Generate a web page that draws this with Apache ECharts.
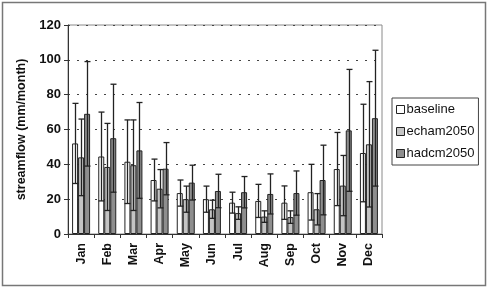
<!DOCTYPE html>
<html>
<head>
<meta charset="utf-8">
<script src="https://cdn.jsdelivr.net/npm/echarts@6/dist/echarts.min.js"></script>
<style>
    html, body { margin: 0; padding: 0; background: #fff; }
    #chart { width: 488px; height: 288px; }
</style>
</head>
<body>
<div id="chart"></div>
<script>
var months = ['Jan', 'Feb', 'Mar', 'Apr', 'May', 'Jun', 'Jul', 'Aug', 'Sep', 'Oct', 'Nov', 'Dec'];
var seriesNames = ['baseline', 'echam2050', 'hadcm2050'];
var baseline = [52, 44.5, 41.5, 31, 23.5, 20, 18, 19, 18, 24, 37.3, 46.5];
var baselineErr = [23, 25.5, 24, 12, 7.5, 7.5, 6, 9.5, 9.6, 16, 21, 28];
var echam = [44, 38.5, 39.5, 26, 20, 14.2, 12, 10, 9.7, 14.2, 27.8, 51.5];
var echamErr = [22, 25, 26, 11, 7.5, 5.2, 3.6, 3.3, 3.6, 9, 17.3, 36];
var hadcm = [69, 55, 48, 37.5, 29.5, 24.7, 24, 23, 23.5, 31, 59.5, 66.5];
var hadcmErr = [30, 31, 27.5, 15, 10, 9.6, 9, 11.5, 12.7, 20, 35, 39];
var yTicks = [0, 20, 40, 60, 80, 100, 120];

(function () {
    var myechart = echarts.init(document.getElementById('chart'), null, { renderer: 'canvas' });
    var fills = ['#ffffff', '#c4c4c4', '#8e8e8e'];
    var values = [baseline, echam, hadcm];
    var errs = [baselineErr, echamErr, hadcmErr];
    var barW = 6;
    var font = 'Arial, "Liberation Sans", sans-serif';

    // error bars drawn on top of the bars, offset like the grouped bars
    function errorSeries(idx) {
        var rows = [];
        for (var i = 0; i < months.length; i++) {
            rows.push([i, values[idx][i] - errs[idx][i], values[idx][i] + errs[idx][i]]);
        }
        return {
            type: 'custom',
            name: seriesNames[idx] + ' err',
            data: rows,
            z: 10,
            silent: true,
            renderItem: function (params, api) {
                var off = (idx - 1) * barW;
                var lo = api.coord([api.value(0), api.value(1)]);
                var hi = api.coord([api.value(0), api.value(2)]);
                var x = Math.round(lo[0] + off) + 0.5;
                var cap = 3;
                var st = { stroke: '#222', lineWidth: 1.3 };
                return {
                    type: 'group',
                    children: [
                        { type: 'line', shape: { x1: x, y1: lo[1], x2: x, y2: hi[1] }, style: st },
                        { type: 'line', shape: { x1: x - cap, y1: lo[1], x2: x + cap, y2: lo[1] }, style: st },
                        { type: 'line', shape: { x1: x - cap, y1: hi[1], x2: x + cap, y2: hi[1] }, style: st }
                    ]
                };
            }
        };
    }

    var series = [];
    for (var s = 0; s < 3; s++) {
        series.push({
            type: 'bar',
            name: seriesNames[s],
            data: values[s],
            barWidth: barW,
            barGap: '0%',
            itemStyle: { color: fills[s], borderColor: '#222', borderWidth: 1 }
        });
    }
    for (var e = 0; e < 3; e++) {
        series.push(errorSeries(e));
    }

    var options = {
        animation: false,
        backgroundColor: '#fff',
        grid: {
            left: 68, top: 25, right: 106, bottom: 54,
            show: true, borderColor: '#8a8a8a', borderWidth: 1
        },
        legend: {
            data: seriesNames.map(function (n, i) {
                return { name: n, itemStyle: { color: fills[i], borderColor: '#222', borderWidth: 1 } };
            }),
            orient: 'vertical',
            left: 392, top: 98,
            itemWidth: 8, itemHeight: 8, itemGap: 9,
            icon: 'rect',
            padding: [5, 4, 5, 4],
            borderColor: '#444', borderWidth: 1,
            textStyle: { fontFamily: font, fontSize: 13, color: '#111', padding: [0, 0, 0, -3] }
        },
        xAxis: {
            type: 'category',
            data: months,
            axisLine: { lineStyle: { color: '#333', width: 1 } },
            axisTick: { show: true, length: 4, lineStyle: { color: '#333' } },
            axisLabel: {
                rotate: 90, margin: 9,
                fontFamily: font, fontSize: 12.5, fontWeight: 'bold', color: '#111'
            }
        },
        yAxis: {
            type: 'value',
            min: 0, max: 120, interval: 20,
            name: 'streamflow (mm/month)',
            nameLocation: 'middle',
            nameGap: 37,
            nameTextStyle: { fontFamily: font, fontSize: 12.5, fontWeight: 'bold', color: '#111' },
            axisLine: { show: true, lineStyle: { color: '#333', width: 1 } },
            axisTick: { show: true, length: 4, lineStyle: { color: '#333' } },
            axisLabel: {
                margin: 7,
                fontFamily: font, fontSize: 13, fontWeight: 'bold', color: '#111',
                formatter: function (v) { return yTicks.indexOf(v) >= 0 ? String(v) : ''; }
            },
            splitLine: { show: true, lineStyle: { color: '#444', type: [2, 7], width: 1 } }
        },
        graphic: [{
            type: 'rect',
            shape: { x: 2.5, y: 2.5, width: 483, height: 283 },
            style: { fill: null, stroke: '#777', lineWidth: 1.5 },
            silent: true
        }],
        series: series
    };
    myechart.setOption(options);
})();
</script>
</body>
</html>
